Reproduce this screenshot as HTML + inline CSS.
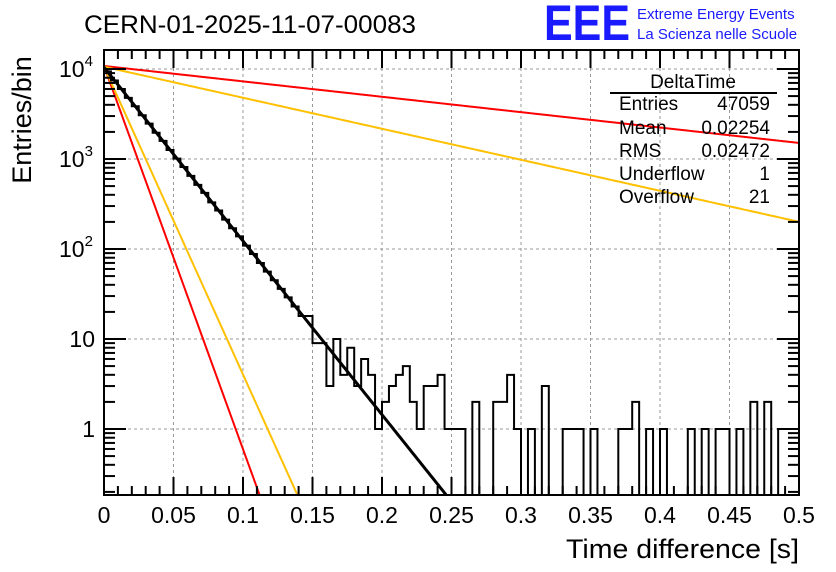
<!DOCTYPE html>
<html><head><meta charset="utf-8"><style>
html,body{margin:0;padding:0;background:#fff;}
svg{display:block;font-family:"Liberation Sans",Arial,sans-serif;}
</style></head><body>
<svg id="chart" width="836" height="572" viewBox="0 0 836 572" xmlns="http://www.w3.org/2000/svg">
<rect x="0" y="0" width="836" height="572" fill="#fff"/>
<g id="grid"></g>
<g id="fits"></g>
<path id="hist" fill="none" stroke="#000" stroke-width="2"/>
<g id="axes"></g>
<text x="84" y="33" font-size="25" fill="#000" textLength="332" lengthAdjust="spacingAndGlyphs">CERN-01-2025-11-07-00083</text>
<text x="544" y="40" font-size="50" font-weight="bold" fill="#1a1aff" textLength="86" lengthAdjust="spacingAndGlyphs">EEE</text>
<text x="637" y="19" font-size="15" fill="#1a1aff">Extreme Energy Events</text>
<text x="637" y="39" font-size="15" fill="#1a1aff">La Scienza nelle Scuole</text>
<g font-size="19" fill="#000">
<text x="693" y="88" text-anchor="middle">DeltaTime</text>
<line x1="610" y1="93" x2="777" y2="93" stroke="#000" stroke-width="2"/>
<text x="619" y="110">Entries</text><text x="770" y="110" text-anchor="end">47059</text>
<text x="619" y="134">Mean</text><text x="770" y="134" text-anchor="end">0.02254</text>
<text x="619" y="157">RMS</text><text x="770" y="157" text-anchor="end">0.02472</text>
<text x="619" y="180">Underflow</text><text x="770" y="180" text-anchor="end">1</text>
<text x="619" y="203">Overflow</text><text x="770" y="203" text-anchor="end">21</text>
</g>
<text transform="translate(31,120) rotate(-90)" text-anchor="middle" font-size="27">Entries/bin</text>
<text x="799" y="558" text-anchor="end" font-size="27" textLength="233" lengthAdjust="spacingAndGlyphs">Time difference [s]</text>
</svg>
<script>
const binCounts = [9400,7450,6000,4780,3860,3060,2470,1960,1590,1260,1010,815,650,515,420,330,268,212,170,138,109,88,70,56,45,36,29,23,18,18,9,9,3,10,4,8,3,6,4,1,2,3,4,5,2,1,3,3,4,1,1,1,0,2,0,0,2,2,4,1,0,1,0,3,0,0,1,1,1,0,1,0,0,0,1,1,2,0,1,0,1,0,0,0,1,0,1,0,1,1,0,1,0,2,0,2,0,1,1,1];
const binRange = [0, 0.5];
const fitAmps = [10450, 10800, 10600, 10800, 10600];
const fitTaus = [0.0225, 0.0102, 0.0127, 0.254, 0.126];
const fitColors = ["#000", "#ff0000", "#ffc000", "#ff0000", "#ffc000"];
const xTicks = [0,0.05,0.1,0.15,0.2,0.25,0.3,0.35,0.4,0.45,0.5];
const xTickLabels = ["0","0.05","0.1","0.15","0.2","0.25","0.3","0.35","0.4","0.45","0.5"];
const yDecades = [1,10,100,1000,10000];

const NS="http://www.w3.org/2000/svg";
const X0=104,X1=799,Y0=50,Y1=495;
const yLogBot=-(Y1-429)/90;
function xs(v){return X0+(v-binRange[0])/(binRange[1]-binRange[0])*(X1-X0);}
function ys(v){const l=Math.log10(Math.max(v,1e-9));return 429-l*90;}
function clampY(y){return Math.min(Y1,Math.max(Y0,y));}
function mk(tag,attrs,parent){const e=document.createElementNS(NS,tag);for(const k in attrs)e.setAttribute(k,attrs[k]);parent.appendChild(e);return e;}

const grid=document.getElementById('grid');
xTicks.forEach((t,i)=>{if(i===0||i===xTicks.length-1)return;
 const l=mk('line',{x1:xs(t),x2:xs(t),y1:Y0,y2:Y1,stroke:'#999','stroke-dasharray':'3,3','stroke-width':1},grid);
 
 });
yDecades.forEach(d=>{const y=ys(d);
 const l=mk('line',{x1:X0,x2:X1,y1:y,y2:y,stroke:'#999','stroke-dasharray':'3,3','stroke-width':1},grid);
 
 });

const n=binCounts.length,bw=(binRange[1]-binRange[0])/n;
let d='M'+X0+','+Y1;
for(let i=0;i<n;i++){
 const x0=xs(binRange[0]+i*bw),x1=xs(binRange[0]+(i+1)*bw);
 const y=binCounts[i]>0?clampY(ys(binCounts[i])):Y1;
 d+=' L'+x0+','+y+' L'+x1+','+y;
}
d+=' L'+X1+','+Y1;
document.getElementById('hist').setAttribute('d',d);

const fits=document.getElementById('fits');
const order=[1,2,3,4,0];
order.forEach(k=>{
 let pts=[];
 for(let s=0;s<=400;s++){const t=binRange[0]+(binRange[1]-binRange[0])*s/400;
  const v=fitAmps[k]*Math.exp(-t/fitTaus[k]);const y=ys(v);
  if(y>Y1){const tb=fitTaus[k]*Math.log(fitAmps[k]/Math.pow(10,yLogBot));pts.push(xs(tb)+','+Y1);break;}
  pts.push(xs(t)+','+y);}
 const p=mk('polyline',{points:pts.join(' '),fill:'none',stroke:fitColors[k],'stroke-width':k===0?3:2},fits);
 
 
});

const ax=document.getElementById('axes');
mk('rect',{x:X0,y:Y0,width:X1-X0,height:Y1-Y0,fill:'none',stroke:'#000','stroke-width':2},ax);
for(let i=0;i<=50;i++){const t=i*0.01,x=xs(t),L=(i%5===0)?18:9;
 mk('line',{x1:x,x2:x,y1:Y1,y2:Y1-L,stroke:'#000','stroke-width':2},ax);
 mk('line',{x1:x,x2:x,y1:Y0,y2:Y0+L,stroke:'#000','stroke-width':2},ax);}
xTicks.forEach((t,i)=>{const tx=mk('text',{x:xs(t),y:523,'text-anchor':'middle','font-size':23},ax);tx.textContent=xTickLabels[i];
 
 });
for(let e=-1;e<=4;e++){for(let m=1;m<=9;m++){const v=m*Math.pow(10,e),y=ys(v);
 if(y<Y0||y>Y1)continue;const L=m===1?22:11;
 mk('line',{x1:X0,x2:X0+L,y1:y,y2:y,stroke:'#000','stroke-width':2},ax);
 mk('line',{x1:X1,x2:X1-L,y1:y,y2:y,stroke:'#000','stroke-width':2},ax);}}
yDecades.forEach((v,i)=>{const y=ys(v);let tx;
 if(v>=100){tx=mk('text',{x:59,y:y+8,'font-size':23},ax);
  tx.innerHTML='10<tspan font-size="15" dy="-11">'+Math.round(Math.log10(v))+'</tspan>';}
 else{tx=mk('text',{x:95,y:y+8,'text-anchor':'end','font-size':23},ax);tx.textContent=String(v);}
 
 });
</script>
</body></html>
